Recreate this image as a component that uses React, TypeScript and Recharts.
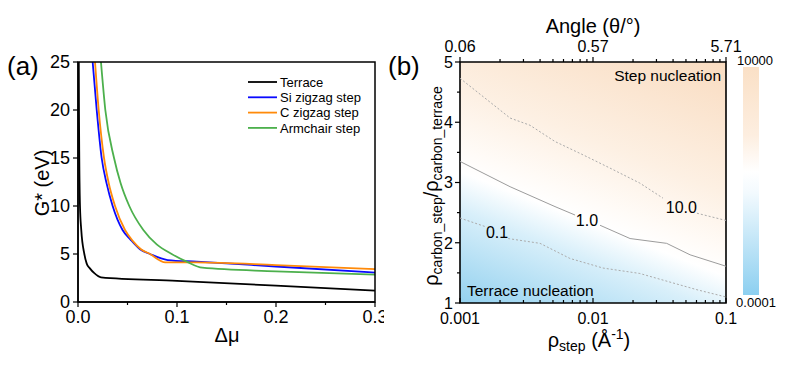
import { ComposedChart, Line, XAxis, YAxis, ReferenceArea, ReferenceDot } from 'recharts';

const FONT = '"Liberation Sans", Arial, Helvetica, sans-serif';

// ---- panel (a): G* vs delta mu ----
const dmuTicks = [0, 0.05, 0.1, 0.15, 0.2, 0.25, 0.3];
const dmuTickLabels = ['0.0', '', '0.1', '', '0.2', '', '0.3'];
const gTicks = [0, 5, 10, 15, 20, 25];
const gTickLabels = ['0', '5', '10', '15', '20', '25'];
const dmuDomain = [0, 0.3];
const gDomain = [0, 25];

const terraceDmu = [0.0008, 0.001, 0.0013, 0.002, 0.0033, 0.0064, 0.0088, 0.012, 0.0165, 0.0232, 0.1, 0.2, 0.3];
const terraceG = [25, 19.5, 15, 10, 7.5, 5, 4, 3.5, 3, 2.57, 2.2, 1.7, 1.18];

const siDmu = [0.0148, 0.0189, 0.0239, 0.029, 0.035, 0.045, 0.053, 0.0626, 0.0727, 0.0906, 0.12, 0.2, 0.3];
const siG = [25, 20, 15, 12.3, 10, 7.5, 6.5, 5.5, 5.0, 4.37, 4.2, 3.7, 3.07];

const cDmu = [0.0172, 0.0209, 0.0263, 0.031, 0.0374, 0.0475, 0.055, 0.0636, 0.0727, 0.0882, 0.12, 0.2, 0.3];
const cG = [25, 20, 15, 12.4, 10, 7.5, 6.4, 5.5, 5.0, 4.13, 4.12, 3.85, 3.42];

const armDmu = [0.0232, 0.0276, 0.0364, 0.043, 0.0518, 0.066, 0.0795, 0.0946, 0.1098, 0.1256, 0.2, 0.3];
const armG = [25, 20, 15, 12.4, 10, 7.5, 6, 5, 4.2, 3.57, 3.2, 2.85];

const seriesNames = ['Terrace', 'Si zigzag step', 'C zigzag step', 'Armchair step'];
const seriesColors = ['#000000', '#0a0aff', '#ff8a0a', '#4cb04c'];

// ---- panel (b): contour map ----
const rhoTicks = [
  0.001, 0.002, 0.003, 0.004, 0.005, 0.006, 0.007, 0.008, 0.009,
  0.01, 0.02, 0.03, 0.04, 0.05, 0.06, 0.07, 0.08, 0.09, 0.1,
];
const rhoTickLabels = ['0.001', '', '', '', '', '', '', '', '', '0.01', '', '', '', '', '', '', '', '', '0.1'];
const angleTickLabels = ['0.06', '', '', '', '', '', '', '', '', '0.57', '', '', '', '', '', '', '', '', '5.71'];
const ratioTicks = [1, 1.5, 2, 2.5, 3, 3.5, 4, 4.5, 5];
const ratioTickLabels = ['1', '', '2', '', '3', '', '4', '', '5'];

const c01Rho = [0.001, 0.00154, 0.0019, 0.0023, 0.004, 0.0067, 0.0119, 0.0225, 0.0336, 0.0605, 0.1];
const c01Ratio = [2.41, 2.27, null, 2.07, 1.99, 1.74, 1.58, 1.49, 1.38, 1.22, 1.1];

const c1Rho = [0.001, 0.00238, 0.00518, 0.00733, 0.009, 0.0113, 0.019, 0.0358, 0.0537, 0.1];
const c1Ratio = [3.35, 2.93, 2.6, 2.46, null, 2.29, 2.07, 1.99, 1.8, 1.61];

const c10Rho = [0.001, 0.00238, 0.00336, 0.00518, 0.0084, 0.0134, 0.0225, 0.0336, 0.045, 0.0605, 0.1];
const c10Ratio = [4.73, 4.07, 3.95, 3.68, 3.46, 3.24, 2.99, 2.74, null, 2.49, 2.37];

const contourLabelText = ['0.1', '1.0', '10.0'];
const contourLabelRho = [0.0019, 0.009, 0.0462];
const contourLabelRatio = [2.17, 2.38, 2.585];

const toPoints = (xs: number[], ys: (number | null)[]) => xs.map((x, i) => ({ x, y: ys[i] }));

const seriesA = [
  toPoints(terraceDmu, terraceG),
  toPoints(siDmu, siG),
  toPoints(cDmu, cG),
  toPoints(armDmu, armG),
];

const contours = [
  { data: toPoints(c01Rho, c01Ratio), dash: '2 2', color: '#ababab' },
  { data: toPoints(c1Rho, c1Ratio), dash: undefined, color: '#9c9c9c' },
  { data: toPoints(c10Rho, c10Ratio), dash: '2 2', color: '#ababab' },
];

// panel (a) chart box; the plot box follows from margin + axis sizes
const A_W = 384;
const A_H = 366;
const A_MARGIN = { top: 62, right: 9, bottom: 34, left: 28 };
const A_YAXIS_W = 50;
const A_XAXIS_H = 30;
const A_BOX = {
  x: A_MARGIN.left + A_YAXIS_W,
  y: A_MARGIN.top,
  w: A_W - A_MARGIN.left - A_YAXIS_W - A_MARGIN.right,
  h: A_H - A_MARGIN.top - A_MARGIN.bottom - A_XAXIS_H,
};

type TickCfg = {
  side: 'bottom' | 'top' | 'left';
  ticks: number[];
  labels: string[];
  margin: number;
  dir: 1 | -1;
  major: number;
  minor: number;
  fontSize: number;
};

// draws major/minor tick marks + labels (tickSize is 0 so x/y sit tickMargin away from the axis)
function makeTick(cfg: TickCfg) {
  return (props: any) => {
    const { x, y, payload } = props;
    const v = payload.value;
    const i = cfg.ticks.findIndex((t) => Math.abs(t - v) <= 1e-9 + 1e-6 * Math.abs(v));
    const label = i >= 0 ? cfg.labels[i] : '';
    const len = label ? cfg.major : cfg.minor;
    const common = { fontSize: cfg.fontSize, fill: '#000', fontFamily: FONT };
    if (cfg.side === 'bottom') {
      const ay = y - cfg.margin;
      return (
        <g>
          <line x1={x} x2={x} y1={ay} y2={ay + cfg.dir * len} stroke="#000" strokeWidth={1.2} />
          {label && (
            <text x={x} y={y} dy="0.72em" textAnchor="middle" {...common}>
              {label}
            </text>
          )}
        </g>
      );
    }
    if (cfg.side === 'top') {
      const ay = y + cfg.margin;
      return (
        <g>
          <line x1={x} x2={x} y1={ay} y2={ay - cfg.dir * len} stroke="#000" strokeWidth={1.2} />
          {label && (
            <text x={x} y={y} textAnchor="middle" {...common}>
              {label}
            </text>
          )}
        </g>
      );
    }
    const ax = x + cfg.margin;
    return (
      <g>
        <line x1={ax} x2={ax - cfg.dir * len} y1={y} y2={y} stroke="#000" strokeWidth={1.2} />
        {label && (
          <text x={x} y={y} dy="0.36em" textAnchor="end" {...common}>
            {label}
          </text>
        )}
      </g>
    );
  };
}

const tickAx = makeTick({ side: 'bottom', ticks: dmuTicks, labels: dmuTickLabels, margin: 8, dir: 1, major: 5, minor: 3, fontSize: 18 });
const tickAy = makeTick({ side: 'left', ticks: gTicks, labels: gTickLabels, margin: 8, dir: 1, major: 5, minor: 3, fontSize: 18 });
const tickBx = makeTick({ side: 'bottom', ticks: rhoTicks, labels: rhoTickLabels, margin: 9, dir: -1, major: 5, minor: 3, fontSize: 16 });
const tickBtop = makeTick({ side: 'top', ticks: rhoTicks, labels: angleTickLabels, margin: 10, dir: 1, major: 5, minor: 3, fontSize: 16 });
const tickBy = makeTick({ side: 'left', ticks: ratioTicks, labels: ratioTickLabels, margin: 7, dir: 1, major: 5, minor: 3, fontSize: 16 });

const frameLine = { stroke: '#000', strokeWidth: 1.5 };

function PanelA() {
  return (
    <ComposedChart width={A_W} height={A_H} margin={A_MARGIN}>
      <XAxis
        dataKey="x"
        type="number"
        domain={dmuDomain}
        allowDataOverflow
        ticks={dmuTicks}
        interval={0}
        tick={tickAx}
        tickLine={false}
        tickSize={0}
        tickMargin={8}
        axisLine={frameLine}
        height={A_XAXIS_H}
      />
      <YAxis
        type="number"
        domain={gDomain}
        allowDataOverflow
        ticks={gTicks}
        interval={0}
        tick={tickAy}
        tickLine={false}
        tickSize={0}
        tickMargin={8}
        axisLine={frameLine}
        width={A_YAXIS_W}
      />
      {seriesA.map((data, i) => (
        <Line
          key={seriesNames[i]}
          data={data}
          dataKey="y"
          name={seriesNames[i]}
          type="monotoneX"
          stroke={seriesColors[i]}
          strokeWidth={1.8}
          dot={false}
          isAnimationActive={false}
        />
      ))}
    </ComposedChart>
  );
}

function PanelB() {
  return (
    <ComposedChart width={393} height={366} margin={{ top: 32, right: 67, bottom: 33, left: 10 }}>
      <defs>
        <linearGradient id="heatGrad" x1="0.285" y1="1.124" x2="0.81" y2="-0.082">
          <stop offset="0" stopColor="#93d1ef" />
          <stop offset="0.27" stopColor="#d8effa" />
          <stop offset="0.38" stopColor="#ffffff" />
          <stop offset="0.45" stopColor="#fffbf7" />
          <stop offset="0.62" stopColor="#fdf0e3" />
          <stop offset="1" stopColor="#f9dcc1" />
        </linearGradient>
      </defs>
      <XAxis
        dataKey="x"
        type="number"
        scale="log"
        domain={[0.001, 0.1]}
        allowDataOverflow
        ticks={rhoTicks}
        interval={0}
        tick={tickBx}
        tickLine={false}
        tickSize={0}
        tickMargin={9}
        axisLine={false}
        height={30}
      />
      <XAxis
        xAxisId="top"
        orientation="top"
        dataKey="x"
        type="number"
        scale="log"
        domain={[0.001, 0.1]}
        allowDataOverflow
        ticks={rhoTicks}
        interval={0}
        tick={tickBtop}
        tickLine={false}
        tickSize={0}
        tickMargin={10}
        axisLine={false}
        height={30}
      />
      <YAxis
        type="number"
        domain={[1, 5]}
        allowDataOverflow
        ticks={ratioTicks}
        interval={0}
        tick={tickBy}
        tickLine={false}
        tickSize={0}
        tickMargin={7}
        axisLine={false}
        width={50}
      />
      <ReferenceArea
        x1={0.001}
        x2={0.1}
        y1={1}
        y2={5}
        fill="url(#heatGrad)"
        fillOpacity={1}
        stroke="#000"
        strokeWidth={1.6}
        ifOverflow="visible"
      />
      {contours.map((c, i) => (
        <Line
          key={contourLabelText[i]}
          data={c.data}
          dataKey="y"
          type="linear"
          stroke={c.color}
          strokeWidth={1}
          strokeDasharray={c.dash}
          dot={false}
          connectNulls={false}
          isAnimationActive={false}
        />
      ))}
      {contourLabelText.map((t, i) => (
        <ReferenceDot
          key={t}
          x={contourLabelRho[i]}
          y={contourLabelRatio[i]}
          r={0}
          fill="none"
          stroke="none"
          label={{ value: t, position: 'center', fontSize: 16, fill: '#000', fontFamily: FONT }}
        />
      ))}
    </ComposedChart>
  );
}

export default function App() {
  return (
    <div style={{ position: 'absolute', left: 0, top: 0, width: 793, height: 366, background: '#fff', fontFamily: FONT }}>
      <div style={{ position: 'absolute', left: 0, top: 0 }}>
        <PanelA />
      </div>
      <div style={{ position: 'absolute', left: 400, top: 0 }}>
        <PanelB />
      </div>
      <svg
        width={793}
        height={366}
        style={{ position: 'absolute', left: 0, top: 0, pointerEvents: 'none' }}
        fontFamily={FONT}
      >
        <defs>
          <linearGradient id="cbarGrad" x1="0" y1="0" x2="0" y2="1">
            <stop offset="0" stopColor="#fae0c6" />
            <stop offset="0.3" stopColor="#fdeee0" />
            <stop offset="0.46" stopColor="#ffffff" />
            <stop offset="0.55" stopColor="#f3fafe" />
            <stop offset="1" stopColor="#8ccff0" />
          </linearGradient>
        </defs>
        {/* box around panel (a) plot area */}
        <rect x={A_BOX.x} y={A_BOX.y} width={A_BOX.w} height={A_BOX.h} fill="none" stroke="#000" strokeWidth={1.5} />
        <text x={7} y={75} fontSize={26}>(a)</text>
        <text x={388} y={75} fontSize={26}>(b)</text>
        <text transform="translate(49,183) rotate(-90)" textAnchor="middle" fontSize={20}>
          G* (eV)
        </text>
        <text x={227} y={342} textAnchor="middle" fontSize={20}>Δμ</text>
        {seriesNames.map((n, i) => (
          <g key={n}>
            <line x1={248} x2={277} y1={82 + i * 15.3} y2={82 + i * 15.3} stroke={seriesColors[i]} strokeWidth={1.8} />
            <text x={280} y={82 + i * 15.3 + 4.6} fontSize={13}>{n}</text>
          </g>
        ))}
        <text x={593} y={33} textAnchor="middle" fontSize={20}>Angle (θ/°)</text>
        <text x={589} y={347} textAnchor="middle" fontSize={20}>
          ρ<tspan fontSize={14} dy={4}>step</tspan>
          <tspan dy={-4}> (Å</tspan>
          <tspan fontSize={14} dy={-8}>-1</tspan>
          <tspan dy={8}>)</tspan>
        </text>
        <text transform="translate(438,186) rotate(-90)" textAnchor="middle" fontSize={20}>
          ρ<tspan fontSize={14} dy={4}>carbon_step</tspan>
          <tspan dy={-4}>/ρ</tspan>
          <tspan fontSize={14} dy={4}>carbon_terrace</tspan>
        </text>
        <text x={721} y={81} textAnchor="end" fontSize={15.5}>Step nucleation</text>
        <text x={467} y={296} fontSize={15.5}>Terrace nucleation</text>
        <rect x={743} y={67} width={16} height={228} fill="url(#cbarGrad)" />
        <text x={755} y={65} textAnchor="middle" fontSize={13}>10000</text>
        <text x={756} y={307} textAnchor="middle" fontSize={13}>0.0001</text>
      </svg>
    </div>
  );
}
